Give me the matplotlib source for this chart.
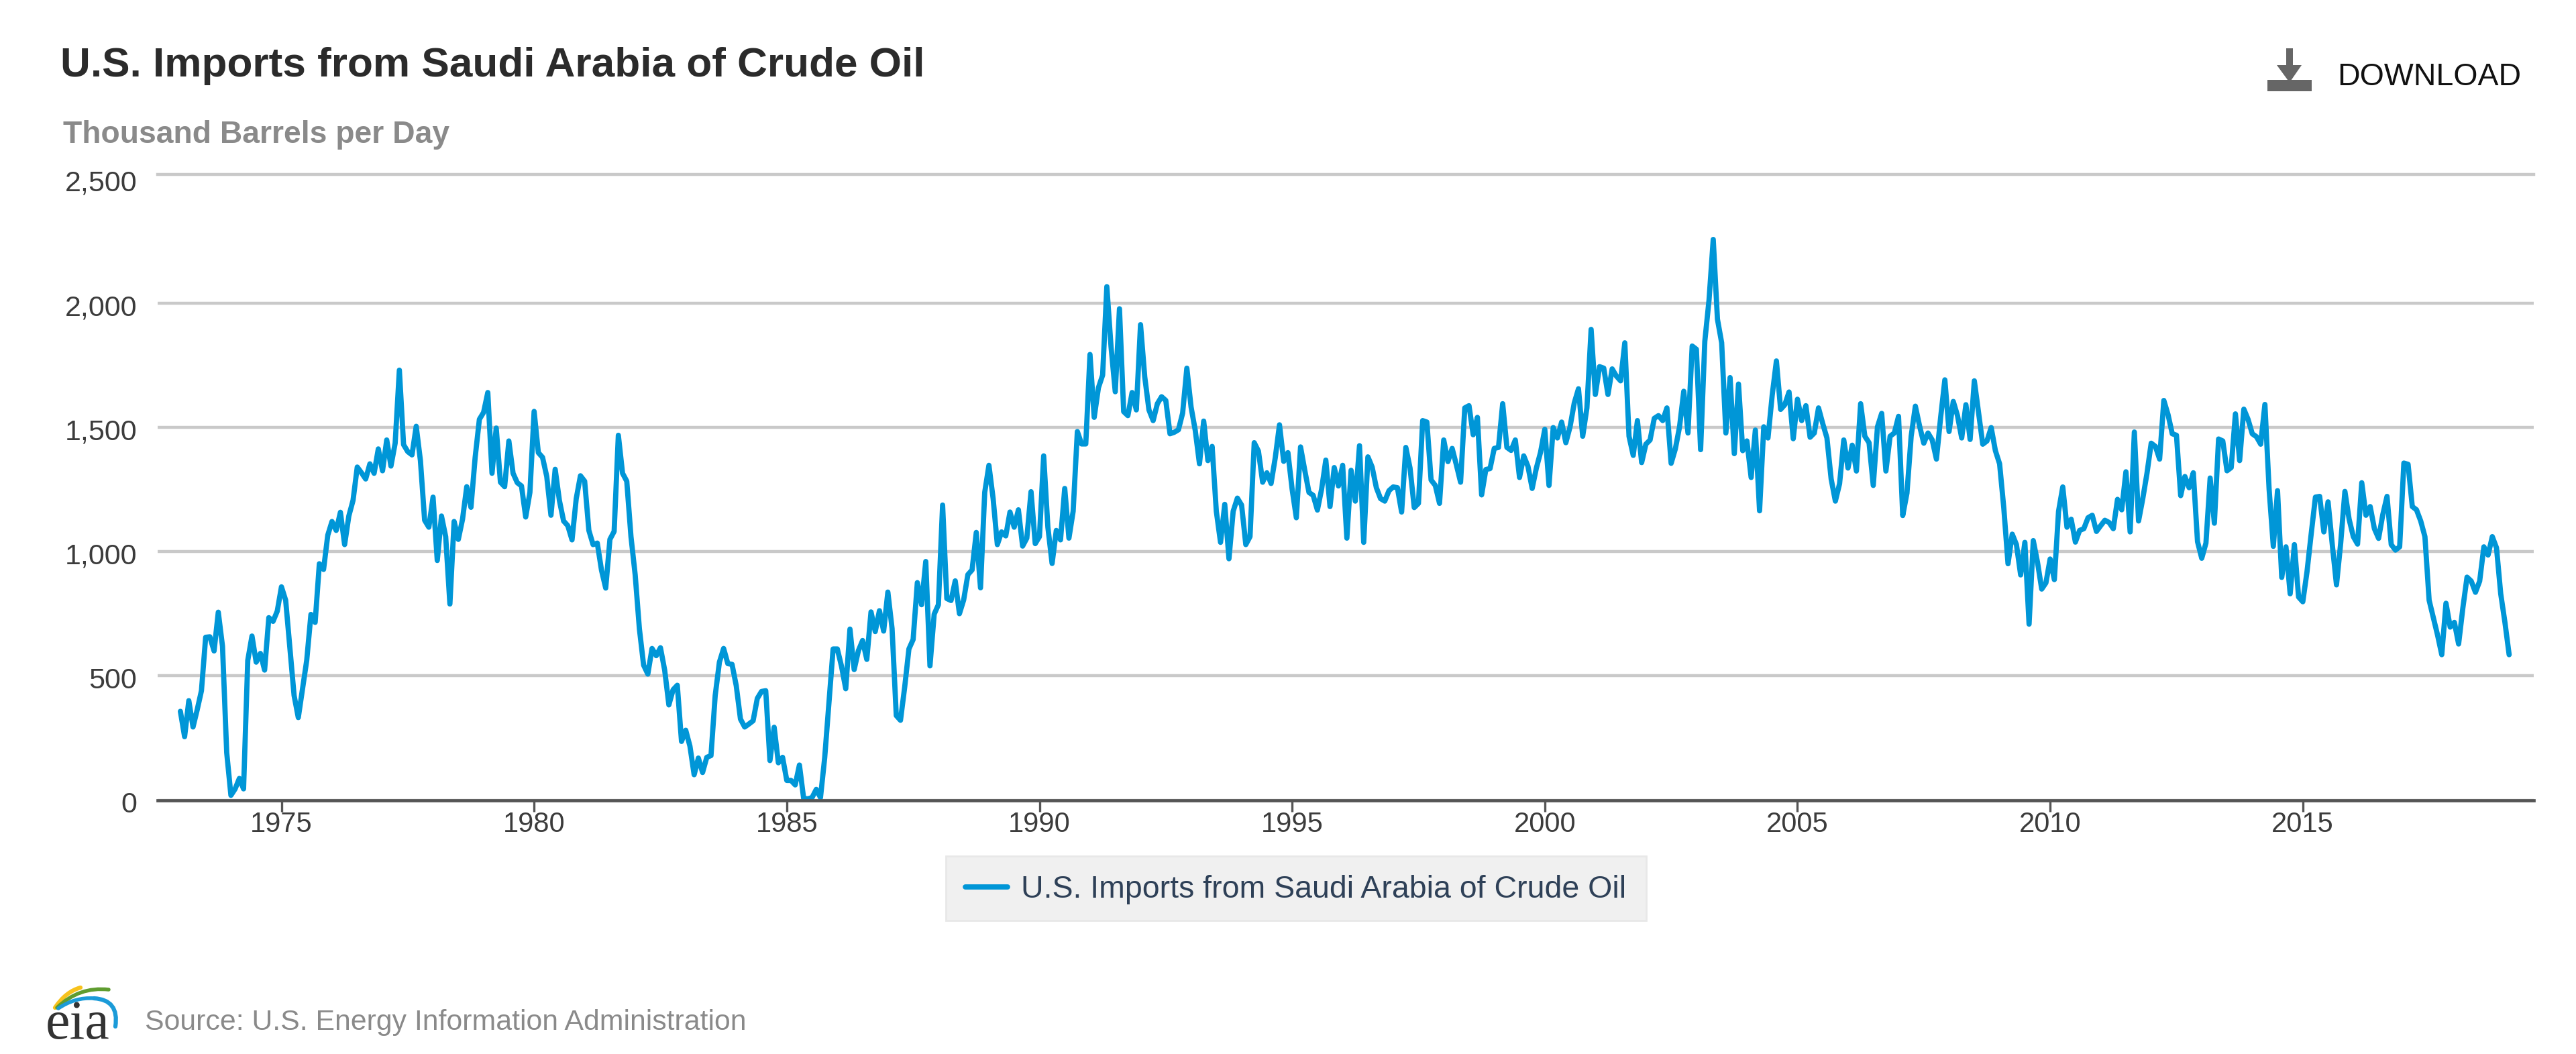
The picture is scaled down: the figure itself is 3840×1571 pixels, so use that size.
#!/usr/bin/env python3
"""U.S. imports from Saudi Arabia of crude oil, monthly (EIA style chart)."""

import numpy as np
import matplotlib
matplotlib.use('Agg')
import matplotlib.pyplot as plt
from matplotlib.patches import Polygon, Rectangle, PathPatch
from matplotlib.path import Path
from matplotlib.transforms import ScaledTranslation

plt.rcParams['font.family'] = ['Liberation Sans', 'DejaVu Sans']

# monthly values, thousand barrels per day
imports_1970s = [
    357, 255, 400, 294, 364, 440, 655, 657, 600, 756, 619, 191,
    19, 45, 87, 45, 562, 660, 555, 590, 523, 734, 719, 760,
    858, 804, 613, 421, 332, 447, 562, 747, 715, 951, 928, 1066,
    1121, 1085, 1158, 1028, 1143, 1206, 1340, 1317, 1292, 1353, 1315, 1413,
    1325, 1449, 1344, 1436, 1730, 1430, 1402, 1389, 1504, 1366, 1126, 1098,
    1219, 964, 1143, 1060, 789, 1121, 1049, 1130, 1261, 1178, 1379, 1532,
    1560, 1640, 1315, 1497, 1279, 1261, 1445, 1315, 1277, 1264, 1139, 1238,
]
imports_1980s = [
    1564, 1398, 1379, 1302, 1146, 1331, 1206, 1123, 1104, 1047, 1213, 1305,
    1283, 1085, 1028, 1034, 925, 853, 1049, 1081, 1468, 1315, 1283, 1060,
    906, 689, 543, 507, 610, 581, 613, 523, 383, 444, 462, 236,
    281, 217, 102, 169, 111, 172, 179, 421, 555, 610, 549, 546,
    460, 326, 294, 306, 319, 409, 437, 440, 159, 293, 150, 172,
    79, 79, 61, 141, 7, 5, 10, 43, 10, 170, 390, 608,
    608, 538, 448, 688, 525, 601, 642, 566, 757, 678, 762, 680,
    837, 690, 340, 321, 455, 608, 646, 875, 786, 960, 540, 748,
    786, 1187, 811, 803, 882, 750, 805, 907, 926, 1077, 854, 1238,
    1347, 1213, 1028, 1079, 1063, 1159, 1098, 1168, 1022, 1054, 1241, 1032,
]
imports_1990s = [
    1060, 1385, 1098, 952, 1085, 1047, 1254, 1054, 1162, 1483, 1433, 1433,
    1793, 1540, 1659, 1710, 2066, 1824, 1643, 1977, 1563, 1547, 1640, 1570,
    1913, 1703, 1570, 1527, 1595, 1623, 1608, 1474, 1480, 1490, 1557, 1738,
    1582, 1487, 1353, 1525, 1366, 1423, 1162, 1037, 1190, 971, 1162, 1215,
    1187, 1028, 1060, 1438, 1404, 1279, 1317, 1274, 1378, 1510, 1363, 1398,
    1251, 1136, 1421, 1327, 1238, 1226, 1167, 1251, 1368, 1181, 1338, 1264,
    1347, 1054, 1327, 1203, 1426, 1037, 1381, 1340, 1257, 1213, 1203, 1245,
    1260, 1257, 1159, 1419, 1336, 1177, 1194, 1527, 1521, 1288, 1266, 1194,
    1449, 1362, 1415, 1349, 1279, 1578, 1587, 1470, 1540, 1228, 1330, 1334,
    1415, 1419, 1595, 1419, 1407, 1449, 1298, 1385, 1343, 1254, 1336, 1400,
]
imports_2000s = [
    1492, 1266, 1499, 1457, 1521, 1438, 1502, 1598, 1655, 1464, 1578, 1894,
    1632, 1744, 1738, 1632, 1735, 1706, 1687, 1840, 1464, 1387, 1527, 1358,
    1432, 1449, 1536, 1547, 1527, 1578, 1355, 1413, 1502, 1645, 1477, 1827,
    1814, 1410, 1846, 2012, 2256, 1935, 1840, 1477, 1700, 1394, 1674, 1406,
    1445, 1298, 1489, 1164, 1502, 1457, 1629, 1767, 1572, 1591, 1642, 1454,
    1613, 1527, 1587, 1460, 1477, 1578, 1515, 1457, 1292, 1203, 1273, 1449,
    1336, 1428, 1324, 1595, 1464, 1438, 1266, 1502, 1556, 1324, 1464, 1477,
    1544, 1145, 1235, 1464, 1585, 1505, 1436, 1477, 1449, 1372, 1540, 1691,
    1483, 1604, 1547, 1457, 1591, 1451, 1687, 1559, 1432, 1445, 1499, 1406,
    1353, 1175, 951, 1070, 1028, 906, 1037, 708, 1044, 957, 849, 874,
]
imports_2010s = [
    970, 887, 1162, 1260, 1098, 1130, 1038, 1085, 1092, 1136, 1146, 1081,
    1104, 1126, 1117, 1092, 1210, 1168, 1321, 1079, 1481, 1123, 1213, 1315,
    1436, 1423, 1372, 1608, 1551, 1474, 1468, 1225, 1302, 1257, 1317, 1040,
    973, 1034, 1296, 1114, 1453, 1445, 1325, 1338, 1554, 1366, 1573, 1532,
    1474, 1462, 1432, 1592, 1251, 1021, 1245, 896, 1019, 830, 1028, 817,
    798, 919, 1072, 1219, 1222, 1079, 1200, 1028, 866, 1034, 1242, 1130,
    1060, 1030, 1277, 1146, 1181, 1092, 1053, 1149, 1222, 1028, 1006, 1019,
    1356, 1351, 1181, 1168, 1123, 1060, 804, 734, 664, 585, 792, 696,
    715, 628, 772, 897, 881, 836, 881, 1019, 986, 1060, 1015, 830,
    715, 585,
]

y_ticks = [0, 500, 1000, 1500, 2000, 2500]
x_ticks = [1975, 1980, 1985, 1990, 1995, 2000, 2005, 2010, 2015]

title = 'U.S. Imports from Saudi Arabia of Crude Oil'
unit_label = 'Thousand Barrels per Day'
source = 'Source: U.S. Energy Information Administration'

W, H = 3840, 1571


def fx(x):
    return x / W


def fy(y):
    return 1 - y / H


imports = np.array(imports_1970s + imports_1980s + imports_1990s + imports_2000s + imports_2010s)
years = 1973 + np.arange(len(imports)) / 12

fig = plt.figure(figsize=(W / 100, H / 100), dpi=100, facecolor='white')
ax = fig.add_axes([fx(235), fy(1192.5), fx(3777 - 235), (1192.5 - 260) / H])

line, = ax.plot(years, imports, color='#0096d7', lw=5.6, solid_joinstyle='round',
                solid_capstyle='round', label=title, zorder=3)
ax.set_xlim(1972.55, 2019.57)
# the top grid line of the original sits a few pixels above its regular place
y_top = 2517.5
ax.set_ylim(0, y_top)

ax.set_yticks(y_ticks)
ax.set_yticklabels([f'{v:,}' for v in y_ticks])
ax.set_xticks(x_ticks)
ax.grid(axis='y', color='#c9c9c9', lw=3.2)
ax.get_ygridlines()[-1].set_visible(False)
ax.axhline(y_top, color='#c9c9c9', lw=3.2, clip_on=False, zorder=0.5)
ax.set_axisbelow(True)
for name in ['top', 'left', 'right']:
    ax.spines[name].set_visible(False)
ax.spines['bottom'].set_color('#555555')
ax.spines['bottom'].set_linewidth(3.4)
ax.spines['bottom'].set_zorder(4)
ax.tick_params(axis='x', length=12, width=2.4, color='#555555', labelcolor='#3c3c3c',
               labelsize=30, pad=0)
ax.tick_params(axis='y', length=0, labelcolor='#3c3c3c', labelsize=31, pad=22)

# y labels sit a little under their grid lines
shift = ScaledTranslation(0, -3 / 100, fig.dpi_scale_trans)
for lab in ax.get_yticklabels():
    lab.set_transform(lab.get_transform() + shift)

fig.text(fx(90), fy(114), title, fontsize=44.7, fontweight='bold', color='#2b2b2b', va='baseline')
fig.text(fx(94), fy(213), unit_label, fontsize=33.3, fontweight='bold', color='#8a8a8a', va='baseline')
fig.text(fx(216), fy(1535), source, fontsize=30.8, color='#8a8a8a', va='baseline')
fig.text(fx(3484), fy(127), 'DOWNLOAD', fontsize=33.5, color='#111111', va='baseline')

# legend box below the plot
fig.add_artist(Rectangle((fx(1410), fy(1372)), fx(1044), 96 / H, transform=fig.transFigure,
                         facecolor='#f0f0f0', edgecolor='#e8e8e8', lw=2))
leg = fig.legend(handles=[line], loc='center', bbox_to_anchor=(fx(1931.5), fy(1326)),
                 fontsize=33.5, frameon=False, handlelength=1.37, handletextpad=0.43,
                 borderpad=0, labelcolor='#2e4057')

# download icon
icon_color = '#666666'
fig.add_artist(Rectangle((fx(3380), fy(136)), fx(65.5), 17 / H, transform=fig.transFigure,
                         color=icon_color, lw=0))
fig.add_artist(Rectangle((fx(3408), fy(98)), fx(10), 26 / H, transform=fig.transFigure,
                         color=icon_color, lw=0))
fig.add_artist(Polygon([(fx(3394), fy(97)), (fx(3431), fy(97)), (fx(3413), fy(123))],
                       transform=fig.transFigure, color=icon_color, lw=0))

# eia logo
fig.text(fx(115.5), fy(1548), 'eia', fontsize=59, family=['Liberation Serif'], color='#333333',
         ha='center', va='baseline')


def swoosh(p0, p1, p2, color, lw):
    verts = [(fx(p0[0]), fy(p0[1])), (fx(p1[0]), fy(p1[1])), (fx(p2[0]), fy(p2[1]))]
    path = Path(verts, [Path.MOVETO, Path.CURVE3, Path.CURVE3])
    fig.add_artist(PathPatch(path, transform=fig.transFigure, fill=False, edgecolor=color,
                             lw=lw, capstyle='round'))


swoosh((82, 1502), (98, 1478), (120, 1472), '#f7c21c', 4.5)
swoosh((85, 1502), (118, 1470), (162, 1475), '#5f9c2f', 4)
swoosh((87, 1503), (112, 1486), (140, 1488), '#1b9bd8', 4)
swoosh((140, 1488), (178, 1490), (172, 1530), '#1b9bd8', 4.5)

fig.savefig('out.png', dpi=100)
